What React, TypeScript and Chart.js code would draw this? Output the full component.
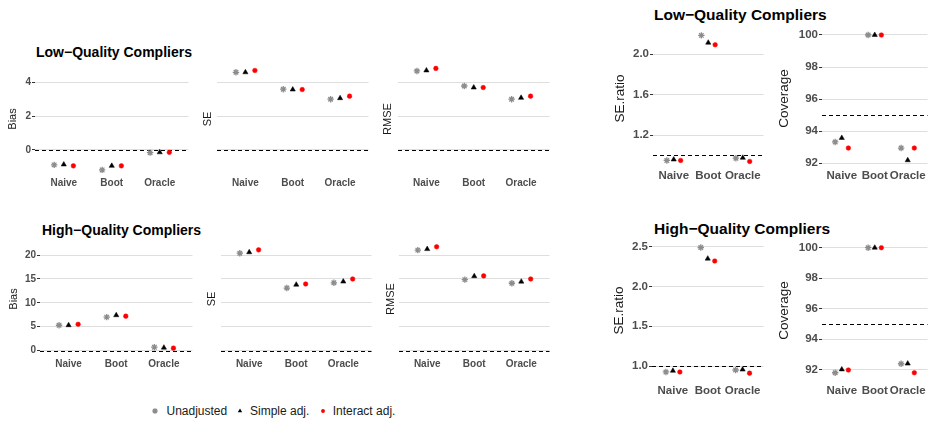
import React, { useEffect, useRef } from 'react';
import { Chart, registerables } from 'chart.js';

Chart.register(...registerables);

const FONT = "'Liberation Sans', Arial, Helvetica, sans-serif";

// ---------------- data ----------------
const categories = ['Naive', 'Boot', 'Oracle'];
const seriesNames = ['Unadjusted', 'Simple adj.', 'Interact adj.'];

const lowBiasUnadj = [-0.88, -1.18, -0.16];
const lowBiasSimple = [-0.86, -0.94, -0.14];
const lowBiasInteract = [-0.94, -0.94, -0.14];

const lowSEUnadj = [4.59, 3.59, 3.0];
const lowSESimple = [4.59, 3.57, 3.06];
const lowSEInteract = [4.7, 3.57, 3.18];

const lowRMSEUnadj = [4.67, 3.78, 3.0];
const lowRMSESimple = [4.7, 3.69, 3.08];
const lowRMSEInteract = [4.82, 3.69, 3.18];

const lowRatioUnadj = [0.948, 2.188, 0.97];
const lowRatioSimple = [0.957, 2.115, 0.974];
const lowRatioInteract = [0.948, 2.095, 0.938];

const lowCovUnadj = [93.33, 100, 92.95];
const lowCovSimple = [93.58, 100, 92.19];
const lowCovInteract = [92.95, 100, 92.95];

const highBiasUnadj = [5.3, 7.0, 0.7];
const highBiasSimple = [5.3, 7.4, 0.6];
const highBiasInteract = [5.5, 7.2, 0.5];

const highSEUnadj = [20.4, 13.1, 14.2];
const highSESimple = [20.6, 13.8, 14.45];
const highSEInteract = [21.1, 13.95, 15.0];

const highRMSEUnadj = [21.05, 14.86, 14.1];
const highRMSESimple = [21.26, 15.58, 14.44];
const highRMSEInteract = [21.75, 15.64, 15.0];

const highRatioUnadj = [0.925, 2.49, 0.95];
const highRatioSimple = [0.94, 2.35, 0.955];
const highRatioInteract = [0.925, 2.32, 0.91];

const highCovUnadj = [91.8, 100, 92.39];
const highCovSimple = [92.02, 100, 92.4];
const highCovInteract = [91.98, 100, 91.8];

const lowLeftTicks = [0, 2, 4];
const highLeftTicks = [0, 5, 10, 15, 20];
const lowRatioTicks = [1.2, 1.6, 2.0];
const highRatioTicks = [1.0, 1.5, 2.0, 2.5];
const coverageTicks = [92, 94, 96, 98, 100];

// ---------------- styling / layout ----------------
const dodge = [-0.2, 0, 0.2];
const seriesStyles = [
  { pointStyle: 'star', radius: 3.2, fill: '#8c8c8c', border: '#8c8c8c', borderWidth: 1.3 },
  { pointStyle: 'triangle', radius: 3, fill: '#000000', border: '#000000', borderWidth: 0.5 },
  { pointStyle: 'circle', radius: 2.3, fill: '#ff0000', border: '#ff0000', borderWidth: 0.5 },
];

type Panel = {
  key: string;
  yTitle: string;
  showTicks: boolean;
  big: boolean;
  ticks: number[];
  decimals: number;
  ref: number;
  min: number;
  max: number;
  left: number;
  right: number;
  top: number;
  bottom: number;
  titleX: number;
  xPad: number;
  series: number[][];
};

const LOW_L = { top: 63, bottom: 175, min: -1.48, max: 5.14, big: false, xPad: 2 };
const HIGH_L = { top: 242, bottom: 356, min: -1.15, max: 22.75, big: false, xPad: 2 };
const LOW_R = { top: 29, bottom: 168, big: true, xPad: 1 };
const HIGH_R = { top: 241, bottom: 380, big: true, xPad: 4 };

const panels: Panel[] = [
  { key: 'lb', yTitle: 'Bias', showTicks: true, ticks: lowLeftTicks, decimals: 0, ref: 0, ...LOW_L, left: 35, right: 193, titleX: 13.3, series: [lowBiasUnadj, lowBiasSimple, lowBiasInteract] },
  { key: 'ls', yTitle: 'SE', showTicks: false, ticks: lowLeftTicks, decimals: 0, ref: 0, ...LOW_L, left: 217, right: 373, titleX: 207.7, series: [lowSEUnadj, lowSESimple, lowSEInteract] },
  { key: 'lr', yTitle: 'RMSE', showTicks: false, ticks: lowLeftTicks, decimals: 0, ref: 0, ...LOW_L, left: 398, right: 554, titleX: 388.3, series: [lowRMSEUnadj, lowRMSESimple, lowRMSEInteract] },
  { key: 'lq', yTitle: 'SE.ratio', showTicks: true, ticks: lowRatioTicks, decimals: 1, ref: 1, ...LOW_R, min: 0.873, max: 2.251, left: 653, right: 768, titleX: 620, series: [lowRatioUnadj, lowRatioSimple, lowRatioInteract] },
  { key: 'lc', yTitle: 'Coverage', showTicks: true, ticks: coverageTicks, decimals: 0, ref: 95, ...LOW_R, min: 91.707, max: 100.374, left: 822, right: 932, titleX: 784.7, series: [lowCovUnadj, lowCovSimple, lowCovInteract] },

  { key: 'hb', yTitle: 'Bias', showTicks: true, ticks: highLeftTicks, decimals: 0, ref: 0, ...HIGH_L, left: 40, right: 197, titleX: 14.3, series: [highBiasUnadj, highBiasSimple, highBiasInteract] },
  { key: 'hs', yTitle: 'SE', showTicks: false, ticks: highLeftTicks, decimals: 0, ref: 0, ...HIGH_L, left: 221, right: 376, titleX: 211.7, series: [highSEUnadj, highSESimple, highSEInteract] },
  { key: 'hr', yTitle: 'RMSE', showTicks: false, ticks: highLeftTicks, decimals: 0, ref: 0, ...HIGH_L, left: 399, right: 554, titleX: 391, series: [highRMSEUnadj, highRMSESimple, highRMSEInteract] },
  { key: 'hq', yTitle: 'SE.ratio', showTicks: true, ticks: highRatioTicks, decimals: 1, ref: 1, ...HIGH_R, min: 0.824, max: 2.572, left: 652, right: 768, titleX: 619.3, series: [highRatioUnadj, highRatioSimple, highRatioInteract] },
  { key: 'hc', yTitle: 'Coverage', showTicks: true, ticks: coverageTicks, decimals: 0, ref: 95, ...HIGH_R, min: 91.325, max: 100.44, left: 822, right: 932, titleX: 784.7, series: [highCovUnadj, highCovSimple, highCovInteract] },
];

const refLinePlugin = {
  id: 'refLine',
  beforeDatasetsDraw(chart: any, _args: any, opts: any) {
    const { ctx, chartArea } = chart;
    const y = Math.round(chart.scales.y.getPixelForValue(opts.value)) + 0.5;
    ctx.save();
    ctx.strokeStyle = '#000000';
    ctx.lineWidth = 1;
    ctx.setLineDash([4, 3]);
    ctx.beginPath();
    ctx.moveTo(chartArea.left, y);
    ctx.lineTo(chartArea.right, y);
    ctx.stroke();
    ctx.restore();
  },
};

const PAD_TOP = 10;
const XAXIS_H = 26;

function PanelChart({ p }: { p: Panel }) {
  const ref = useRef<HTMLCanvasElement | null>(null);
  const tickSize = p.big ? 11.5 : 10;
  const titleSize = p.big ? 13.5 : 11;
  const half = (titleSize * 1.2) / 2;
  const canvasLeft = Math.round(p.titleX - half - 1.5);
  const yW = p.left - canvasLeft;
  const w = p.right - canvasLeft;
  const h = p.bottom - p.top + PAD_TOP + XAXIS_H;
  const titlePad = p.titleX - canvasLeft - half;

  useEffect(() => {
    const chart = new Chart(ref.current as HTMLCanvasElement, {
      type: 'scatter',
      data: {
        datasets: p.series.map((vals, s) => ({
          label: seriesNames[s],
          data: vals.map((v, i) => ({ x: i + 1 + dodge[s], y: v })),
          pointStyle: seriesStyles[s].pointStyle as any,
          pointRadius: seriesStyles[s].radius,
          pointHoverRadius: seriesStyles[s].radius,
          pointBackgroundColor: seriesStyles[s].fill,
          pointBorderColor: seriesStyles[s].border,
          pointBorderWidth: seriesStyles[s].borderWidth,
          clip: false as any,
        })),
      },
      options: {
        responsive: false,
        animation: false,
        devicePixelRatio: 1,
        events: [],
        layout: { padding: { top: PAD_TOP, left: 0, right: 0, bottom: 0 } },
        plugins: {
          legend: { display: false },
          tooltip: { enabled: false },
          refLine: { value: p.ref },
        } as any,
        scales: {
          x: {
            type: 'linear',
            min: 0.4,
            max: 3.6,
            afterBuildTicks: (s: any) => {
              s.ticks = categories.map((_, i) => ({ value: i + 1 }));
            },
            afterFit: (s: any) => {
              s.height = XAXIS_H;
            },
            ticks: {
              callback: (v: any) => categories[Math.round(Number(v)) - 1] ?? '',
              font: { family: FONT, size: tickSize, weight: 'bold' },
              color: '#4d4d4d',
              padding: p.xPad,
              maxRotation: 0,
              autoSkip: false,
            },
            grid: { display: false, drawTicks: false },
            border: { display: false },
          },
          y: {
            type: 'linear',
            min: p.min,
            max: p.max,
            afterBuildTicks: (s: any) => {
              s.ticks = p.ticks.map((v) => ({ value: v }));
            },
            afterFit: (s: any) => {
              s.width = yW;
            },
            ticks: {
              display: p.showTicks,
              callback: (v: any) => Number(v).toFixed(p.decimals),
              font: { family: FONT, size: tickSize, weight: 'bold' },
              color: '#4d4d4d',
              padding: 1,
            },
            grid: {
              color: '#dedede',
              lineWidth: 1,
              drawTicks: p.showTicks,
              tickLength: 3,
              tickColor: '#333333',
              tickWidth: 1,
            },
            border: { display: false },
            title: {
              display: true,
              text: p.yTitle,
              font: { family: FONT, size: titleSize },
              color: '#1a1a1a',
              padding: { top: titlePad, bottom: 0 },
            },
          },
        },
      } as any,
      plugins: [refLinePlugin],
    });
    return () => chart.destroy();
  }, []);

  return (
    <canvas
      ref={ref}
      width={w}
      height={h}
      style={{ position: 'absolute', left: canvasLeft, top: p.top - PAD_TOP, width: w, height: h }}
    />
  );
}

function LegendSymbol({ kind, x, y }: { kind: number; x: number; y: number }) {
  const ref = useRef<HTMLCanvasElement | null>(null);
  useEffect(() => {
    const c = ref.current as HTMLCanvasElement;
    const ctx = c.getContext('2d') as CanvasRenderingContext2D;
    ctx.clearRect(0, 0, 12, 12);
    const st = seriesStyles[kind];
    const cx = 6, cy = 6, r = st.radius * 0.85;
    ctx.fillStyle = st.fill;
    ctx.strokeStyle = st.border;
    if (st.pointStyle === 'star') {
      ctx.lineWidth = st.borderWidth;
      ctx.beginPath();
      for (let k = 0; k < 4; k++) {
        const a = (k * Math.PI) / 4;
        ctx.moveTo(cx - Math.cos(a) * r, cy - Math.sin(a) * r);
        ctx.lineTo(cx + Math.cos(a) * r, cy + Math.sin(a) * r);
      }
      ctx.stroke();
    } else if (st.pointStyle === 'triangle') {
      ctx.beginPath();
      ctx.moveTo(cx, cy - r);
      ctx.lineTo(cx + r * 0.87, cy + r * 0.5);
      ctx.lineTo(cx - r * 0.87, cy + r * 0.5);
      ctx.closePath();
      ctx.fill();
    } else {
      ctx.beginPath();
      ctx.arc(cx, cy, r, 0, Math.PI * 2);
      ctx.fill();
    }
  }, []);
  return (
    <canvas
      ref={ref}
      width={12}
      height={12}
      style={{ position: 'absolute', left: x - 6, top: y - 6, width: 12, height: 12 }}
    />
  );
}

const titleStyle: React.CSSProperties = {
  position: 'absolute',
  fontFamily: FONT,
  fontWeight: 'bold',
  fontSize: 14,
  lineHeight: '16px',
  color: '#000',
  whiteSpace: 'nowrap',
};

const titleStyleBig: React.CSSProperties = {
  ...titleStyle,
  fontSize: 15.5,
  lineHeight: '18px',
};

const legendTextStyle: React.CSSProperties = {
  position: 'absolute',
  fontFamily: FONT,
  fontSize: 12,
  lineHeight: '14px',
  color: '#1a1a1a',
  whiteSpace: 'nowrap',
  top: 404,
};

const legendItems = [
  { sym: 155, text: 166.5 },
  { sym: 240, text: 250 },
  { sym: 322.7, text: 332.7 },
];

export default function App() {
  return (
    <div
      style={{
        position: 'absolute',
        left: 0,
        top: 0,
        width: 935,
        height: 422,
        background: '#ffffff',
        overflow: 'hidden',
      }}
    >
      <div style={{ ...titleStyle, left: 36, top: 43.5 }}>Low−Quality Compliers</div>
      <div style={{ ...titleStyle, left: 42, top: 222 }}>High−Quality Compliers</div>
      <div style={{ ...titleStyleBig, left: 654, top: 6.2 }}>Low−Quality Compliers</div>
      <div style={{ ...titleStyleBig, left: 654, top: 219.5 }}>High−Quality Compliers</div>
      {panels.map((p) => (
        <PanelChart key={p.key} p={p} />
      ))}
      {legendItems.map((it, i) => (
        <React.Fragment key={i}>
          <LegendSymbol kind={i} x={it.sym} y={411} />
          <div style={{ ...legendTextStyle, left: it.text }}>{seriesNames[i]}</div>
        </React.Fragment>
      ))}
    </div>
  );
}
